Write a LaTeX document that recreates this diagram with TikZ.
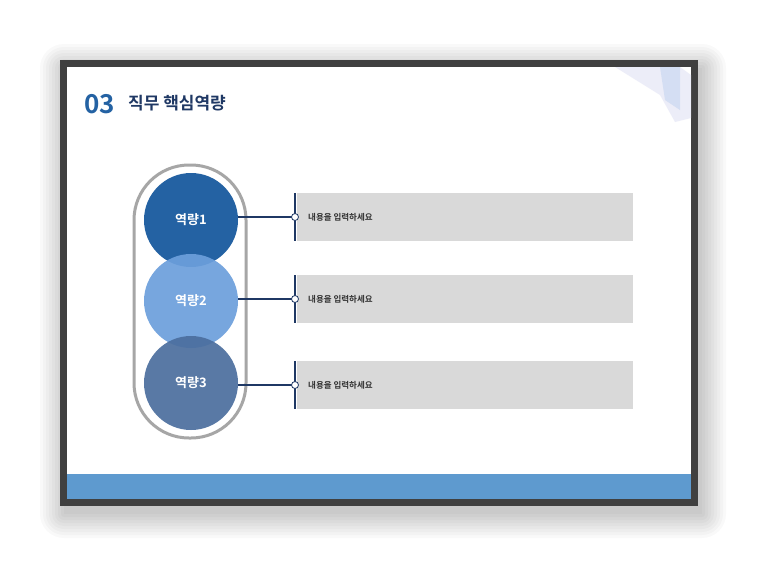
\documentclass[tikz,border=0pt]{standalone}
\usepackage{fontspec}
\setmainfont{Noto Sans CJK KR}
\newfontfamily\kb{Noto Sans CJK KR Bold}
\begin{document}
\begin{tikzpicture}[x=1pt,y=-1pt,
 txt/.style={font=\kb\fontsize{8.5}{9}\selectfont,text=black!80,anchor=west,inner sep=0},
 captxt/.style={font=\kb\fontsize{13}{14}\selectfont,text=white},
 box/.style={fill=black!15,draw=none}]
\definecolor{navy}{HTML}{1F3864}
\definecolor{cA}{HTML}{2462A3}
\definecolor{cB}{HTML}{6C9FDC}
\definecolor{cC}{HTML}{4B6E9E}
\definecolor{barc}{HTML}{5E9ACF}
\useasboundingbox (0,0) rectangle (774,582);
\fill[white] (0,0) rectangle (774,582);
\foreach \i in {24,21,...,0}{
 \fill[black,opacity=0.025,rounded corners=\i pt] (60-\i+4,60-\i+8) rectangle (698+\i+4,506+\i+8);}
\fill[black!75] (60,60) rectangle (698,506);
\fill[white] (67,67) rectangle (691,499);
\fill[barc] (67,474) rectangle (691,499);
\fill[cyan!30!blue!10,opacity=0.7] (615,67) -- (680,67) -- (691,75) -- (691,118) -- (675,122) -- (660,95) -- cycle;
\fill[cyan!50!blue!20,opacity=0.7] (660,67) -- (680,67) -- (680,110) -- (665,100) -- cycle;
\node[anchor=west,inner sep=0,text=cA,font=\kb\fontsize{26}{28}\selectfont] (num) at (84,104) {03};
\node[anchor=west,inner sep=0,text=navy,font=\kb\fontsize{17}{18}\selectfont] (title) at (128,103) {직무 핵심역량};
\draw[black!35,line width=3pt,rounded corners=55pt] (134,165) rectangle (246,438);
\node[circle,fill=cA,minimum size=94pt,inner sep=0] (c1) at (191,220) {};
\node[circle,fill=cB,opacity=0.92,minimum size=94pt,inner sep=0] (c2) at (191,301) {};
\node[circle,fill=cC,opacity=0.92,minimum size=94pt,inner sep=0] (c3) at (191,383) {};
\node[captxt] at (c1) {역량1};
\node[captxt] at (c2) {역량2};
\node[captxt] at (c3) {역량3};
\foreach \n/\y in {1/217,2/299,3/385}{
 \fill[box] (297,\y-24) rectangle (633,\y+24);
 \draw[navy,line width=2pt] (295,\y-24) -- (295,\y+24);
 \coordinate (p\n) at (295,\y);
 \draw[navy,line width=1.2pt] (c\n.east |- p\n) -- (p\n);
 \filldraw[draw=navy,fill=white,line width=0.8pt] (p\n) circle (3.5);
 \node[txt] (t\n) at (308,\y) {내용을 입력하세요};
}
\end{tikzpicture}
\end{document}
